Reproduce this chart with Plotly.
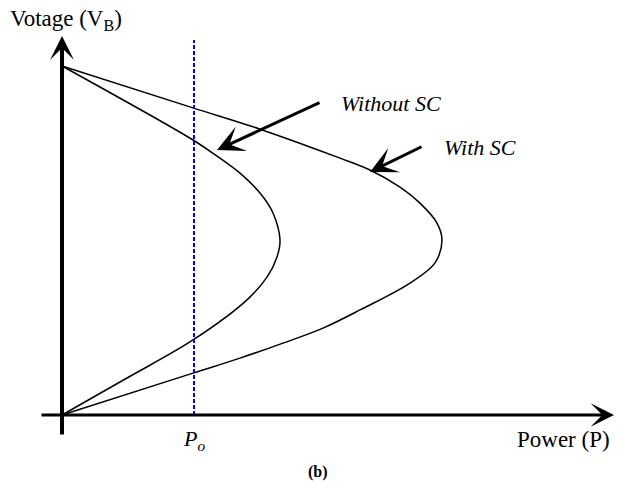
import plotly.graph_objects as go

# P-V (nose) curves of the bus voltage: per-unit voltage vs. power
v_without_sc = [1.000, 0.788, 0.742, 0.693, 0.636, 0.579, 0.501, 0.453, 0.395, 0.330, 0.215, 0.106, 0.000]
p_without_sc = [0.00, 1.31, 1.55, 1.78, 1.98, 2.11, 2.18, 2.15, 2.05, 1.85, 1.31, 0.65, 0.00]

v_with_sc = [1.000, 0.880, 0.819, 0.736, 0.702, 0.653, 0.607, 0.550, 0.501, 0.436, 0.378,
             0.301, 0.249, 0.206, 0.163, 0.120, 0.000]
p_with_sc = [0.00, 1.31, 1.98, 2.78, 3.08, 3.38, 3.58, 3.75, 3.80, 3.73, 3.48,
             2.98, 2.61, 2.21, 1.78, 1.31, 0.00]

p_o = 1.32  # operating power

W, H = 618, 484
X0, Y0 = 62, 415        # origin in page pixels
SX, SY = 100.0, 349.0   # pixels per unit of P and V


def px(x):
    return (x - X0) / SX


def py(y):
    return (Y0 - y) / SY


fig = go.Figure()

for p, v in [(p_without_sc, v_without_sc), (p_with_sc, v_with_sc)]:
    fig.add_trace(go.Scatter(
        x=p, y=v, mode="lines",
        line=dict(color="black", width=1.5, shape="spline", smoothing=1.0),
        hoverinfo="skip", showlegend=False,
    ))

# operating point
fig.add_trace(go.Scatter(
    x=[p_o, p_o], y=[0, py(40)], mode="lines",
    line=dict(color="#0000ff", width=2, dash="4px,2px"),
    hoverinfo="skip", showlegend=False,
))

serif = "Liberation Serif"
ann = []


def arrow(tip, tail, width, size):
    return dict(x=px(tip[0]), y=py(tip[1]), ax=px(tail[0]), ay=py(tail[1]),
                xref="x", yref="y", axref="x", ayref="y",
                showarrow=True, arrowhead=3, arrowwidth=width, arrowsize=size,
                arrowcolor="black", text="")


# axes with arrowheads
ann.append(arrow((62, 36), (62, 436), 4, 1.0))
ann.append(arrow((614, 415), (40, 415), 3, 1.3))

# curve pointers
ann.append(arrow((217, 150), (321, 102), 3, 1.5))
ann.append(arrow((370, 172), (423, 146), 3, 1.5))


def label(x, y, text, size, anchor="center"):
    return dict(x=x, y=y, xref="x", yref="y", xanchor=anchor, yanchor="middle",
                showarrow=False, text=text,
                font=dict(family=serif, size=size, color="black"))


ann.append(label(px(8), py(20), "Votage (V<sub>B</sub>)", 23, "left"))
ann.append(label(px(612), py(439), "Power (P)", 23, "right"))
ann.append(label(px(391), py(103), "<i>Without SC</i>", 22))
ann.append(label(px(480), py(147), "<i>With SC</i>", 22))
ann.append(label(p_o, py(440), "<i>P<sub>o</sub></i>", 22))
ann.append(label(px(318), py(472), "<b>(b)</b>", 16))

fig.update_layout(
    width=W, height=H,
    margin=dict(l=0, r=0, t=0, b=0),
    paper_bgcolor="white", plot_bgcolor="white",
    xaxis=dict(range=[px(0), px(W)], visible=False, fixedrange=True),
    yaxis=dict(range=[py(H), py(0)], visible=False, fixedrange=True),
    annotations=ann,
    showlegend=False,
)

fig.write_html("out.html")
